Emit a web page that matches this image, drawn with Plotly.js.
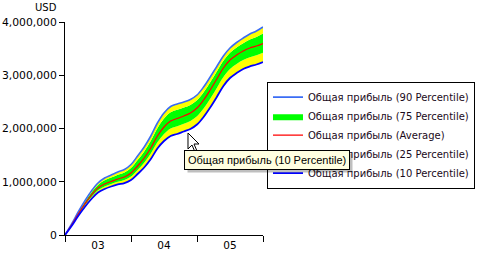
<!DOCTYPE html>
<html>
<head>
<meta charset="utf-8">
<script src="https://cdn.plot.ly/plotly-3.0.1.min.js"></script>
<style>
html,body{margin:0;padding:0;background:#fff;}
#chart{width:479px;height:257px;}
</style>
</head>
<body>
<div id="chart"></div>
<script>
// ---- data ----
const step = [0,1,2,3,4,5,6,7,8,9,10,11,12,13,14,15,16,17,18,19,20,21,22,23,24,25,26,27,28,29,30];
const periodLabels = ['03','04','05'];
const periodCenters = [5,15,25];
const periodBounds = [0,10,20,30];

const p90 = [0,207000,432000,638000,826000,977000,1071000,1127000,1183000,1230000,1324000,1484000,1653000,1859000,2103000,2291000,2413000,2460000,2498000,2545000,2629000,2779000,2967000,3165000,3361000,3511000,3615000,3699000,3775000,3831000,3906000];
const p75 = [0,199000,417000,616000,796000,939000,1026000,1078000,1131000,1174000,1260000,1409000,1570000,1769000,2005000,2186000,2304000,2351000,2393000,2443000,2531000,2681000,2869000,3071000,3271000,3421000,3521000,3601000,3670000,3718000,3782000];
const avg = [0,188000,394000,582000,751000,883000,958000,1005000,1052000,1089000,1164000,1296000,1446000,1634000,1859000,2028000,2141000,2188000,2235000,2291000,2385000,2535000,2723000,2930000,3136000,3286000,3380000,3455000,3512000,3549000,3596000];
const p25 = [0,179000,375000,554000,713000,841000,911000,958000,1000000,1033000,1098000,1221000,1357000,1531000,1742000,1897000,2000000,2042000,2089000,2141000,2230000,2375000,2559000,2761000,2967000,3117000,3211000,3286000,3339000,3376000,3423000];
const p10 = [0,169000,356000,526000,676000,798000,864000,911000,949000,976000,1033000,1146000,1268000,1427000,1624000,1765000,1859000,1897000,1944000,1991000,2075000,2216000,2394000,2592000,2798000,2948000,3042000,3117000,3165000,3202000,3249000];

const seriesName = 'Общая прибыль';
const tooltipText = 'Общая прибыль (10 Percentile)';
const unitLabel = 'USD';

const FONT = 'DejaVu Sans, Verdana, sans-serif';
const SH = 'spline';

const traces = [
  {x: step, y: p10, type:'scatter', mode:'lines', line:{width:0, color:'rgba(0,0,0,0)', shape:SH}, showlegend:false, hoverinfo:'skip'},
  {x: step, y: p25, type:'scatter', mode:'lines', fill:'tonexty', fillcolor:'#ffff00', line:{width:0, color:'#ffff00', shape:SH},
   name: seriesName + ' (25 Percentile)', legendrank: 4, hoverinfo:'skip'},
  {x: step, y: p75, type:'scatter', mode:'lines', fill:'tonexty', fillcolor:'#00ff00', line:{width:0, color:'#00ff00', shape:SH},
   name: seriesName + ' (75 Percentile)', legendrank: 2, hoverinfo:'skip'},
  {x: step, y: p90, type:'scatter', mode:'lines', fill:'tonexty', fillcolor:'#ffff00', line:{width:0, color:'#ffff00', shape:SH},
   showlegend:false, hoverinfo:'skip'},
  {x: step, y: p90, type:'scatter', mode:'lines', line:{width:1.6, color:'#3a6cf4', shape:SH},
   name: seriesName + ' (90 Percentile)', legendrank: 1},
  {x: step, y: avg, type:'scatter', mode:'lines', line:{width:1.2, color:'#ff0000', shape:SH},
   name: seriesName + ' (Average)', legendrank: 3},
  {x: step, y: p10, type:'scatter', mode:'lines', line:{width:1.8, color:'#0000ff', shape:SH},
   name: seriesName + ' (10 Percentile)', legendrank: 5}
];

const layout = {
  width: 479, height: 257,
  margin: {l:65, r:216, t:22, b:22, pad:0, autoexpand:false},
  paper_bgcolor:'#ffffff', plot_bgcolor:'#ffffff',
  font: {family: FONT, size: 10, color:'#000000'},
  showlegend: true,
  legend: {
    x: 1.0202, y: 0.72, xanchor:'left', yanchor:'top',
    bgcolor:'#ffffff', bordercolor:'#000000', borderwidth:1,
    font:{family: FONT, size: 10, color:'#1a0a1a'},
    traceorder:'normal', tracegroupgap:0, itemwidth:30
  },
  xaxis: {
    range:[0,30], showgrid:false, zeroline:false, fixedrange:true,
    showline:true, linecolor:'#000000', linewidth:1,
    tickmode:'array', tickvals: periodCenters, ticktext: periodLabels, ticks:'',
    tickfont:{family: FONT, size:10.5, color:'#000000'},
    minor:{tickmode:'array', tickvals: periodBounds, ticks:'outside', ticklen:6, tickwidth:1, tickcolor:'#000000', showgrid:false}
  },
  yaxis: {
    range:[0,4000000], showgrid:false, zeroline:false, fixedrange:true,
    showline:true, linecolor:'#000000', linewidth:1,
    tickmode:'array', tickvals:[0,1000000,2000000,3000000,4000000],
    ticktext:['0','1,000,000','2,000,000','3,000,000','4,000,000'],
    ticks:'outside', ticklen:5, tickwidth:1, tickcolor:'#000000',
    tickfont:{family: FONT, size:10.8, color:'#000000'}
  },
  shapes: [
    // mouse cursor
    {type:'path', xref:'paper', yref:'paper', layer:'above',
     path:'M 0.6212 0.4789 L 0.6212 0.4038 L 0.6414 0.4225 L 0.6566 0.3897 L 0.6667 0.3944 L 0.6515 0.4272 L 0.6768 0.4272 Z',
     fillcolor:'#ffffff', line:{color:'#000000', width:1}}
  ],
  annotations: [
    {text: unitLabel, xref:'paper', yref:'paper', x:-0.096, y:1.066, xanchor:'center', yanchor:'middle',
     showarrow:false, font:{family: FONT, size:10, color:'#000000'}},
    {text: tooltipText, xref:'paper', yref:'paper', x:1.0177, y:0.352, xanchor:'center', yanchor:'middle',
     xshift:3, yshift:-3, showarrow:false, bgcolor:'rgba(0,0,0,0.25)', bordercolor:'rgba(0,0,0,0)', borderwidth:1, borderpad:3,
     font:{family:'Liberation Sans, Arial, sans-serif', size:11, color:'rgba(0,0,0,0)'}},
    {text: tooltipText, xref:'paper', yref:'paper', x:1.0177, y:0.352, xanchor:'center', yanchor:'middle',
     showarrow:false, bgcolor:'#ffffe1', bordercolor:'#000000', borderwidth:1, borderpad:3,
     font:{family:'Liberation Sans, Arial, sans-serif', size:11, color:'#000000'}}
  ]
};

Plotly.newPlot('chart', traces, layout, {displayModeBar:false, staticPlot:true});
</script>
</body>
</html>
